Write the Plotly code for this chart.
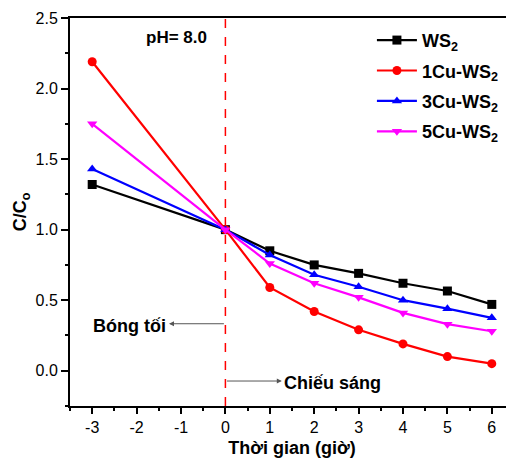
import plotly.graph_objects as go

x_vals = [-3, 0, 1, 2, 3, 4, 5, 6]
ws2 = [1.32, 1.0, 0.85, 0.75, 0.69, 0.62, 0.565, 0.47]
cu1 = [2.19, 1.0, 0.59, 0.42, 0.29, 0.19, 0.10, 0.05]
cu3 = [1.43, 1.0, 0.82, 0.68, 0.595, 0.50, 0.44, 0.375]
cu5 = [1.75, 1.0, 0.76, 0.62, 0.52, 0.41, 0.33, 0.28]

names = ["WS<sub>2</sub>", "1Cu-WS<sub>2</sub>", "3Cu-WS<sub>2</sub>", "5Cu-WS<sub>2</sub>"]
colors = ["#000000", "#ff0000", "#0000ff", "#ff00ff"]
symbols = ["square", "circle", "triangle-up", "triangle-down"]
series = [ws2, cu1, cu3, cu5]

x_ticks = [-3, -2, -1, 0, 1, 2, 3, 4, 5, 6]
y_ticks = [0.0, 0.5, 1.0, 1.5, 2.0, 2.5]

FONT = "Arial, Liberation Sans, sans-serif"

fig = go.Figure()
for i, (n, c, s, ys) in enumerate(zip(names, colors, symbols, series)):
    fig.add_trace(go.Scatter(x=x_vals, y=ys, name=n, mode="lines+markers",
                             legendgroup=f"g{i}",
                             line=dict(color=c, width=2.2),
                             marker=dict(symbol=s, size=9, color=c)))

fig.add_shape(type="line", x0=0, x1=0, y0=-0.25, y1=2.5, xref="x", yref="y",
              line=dict(color="#ff0000", width=1.5, dash="dash"))

# arrows
fig.add_annotation(x=-1.27, y=0.333, ax=0, ay=0.333, xref="x", yref="y", axref="x", ayref="y",
                   showarrow=True, arrowhead=2, arrowsize=1, arrowwidth=1, arrowcolor="#555555", text="")
fig.add_annotation(x=1.27, y=-0.073, ax=0, ay=-0.073, xref="x", yref="y", axref="x", ayref="y",
                   showarrow=True, arrowhead=2, arrowsize=1, arrowwidth=1, arrowcolor="#555555", text="")
fig.add_annotation(x=-1.3, y=0.32, xref="x", yref="y", text="<b>Bóng tối</b>", showarrow=False,
                   xanchor="right", yanchor="middle", font=dict(family=FONT, size=18, color="black"))
fig.add_annotation(x=1.27, y=-0.085, xref="x", yref="y", text="<b>Chiếu sáng</b>", showarrow=False,
                   xanchor="left", yanchor="middle", font=dict(family=FONT, size=18, color="black"))
fig.add_annotation(x=-1.1, y=2.36, xref="x", yref="y", text="<b>pH= 8.0</b>", showarrow=False,
                   xanchor="center", yanchor="middle", font=dict(family=FONT, size=17, color="black"))

fig.update_layout(
    width=506, height=453,
    margin=dict(l=62, r=0, t=10, b=55, autoexpand=False),
    paper_bgcolor="white", plot_bgcolor="white",
    font=dict(family=FONT, size=16, color="black"),
    legend=dict(x=0.68, y=0.99, xanchor="left", yanchor="top", bgcolor="rgba(0,0,0,0)",
                font=dict(family=FONT, size=18, color="black", weight="bold"),
                itemwidth=40, tracegroupgap=4),
    xaxis=dict(range=[-3.5, 6.5], tickvals=x_ticks, ticktext=[str(v) for v in x_ticks],
               showgrid=False, zeroline=False, showline=True, linecolor="black", linewidth=2,
               mirror=True, ticks="outside", ticklen=6, tickwidth=1.5, tickcolor="black",
               minor=dict(tickvals=[v + 0.5 for v in [-4] + x_ticks], ticks="outside", ticklen=3,
                          tickwidth=1.5, tickcolor="black", showgrid=False),
               title=dict(text="<b>Thời gian (giờ)</b>", font=dict(size=18), standoff=6)),
    yaxis=dict(range=[-0.25, 2.5], tickvals=y_ticks, ticktext=["0.0", "0.5", "1.0", "1.5", "2.0", "2.5"],
               showgrid=False, zeroline=False, showline=True, linecolor="black", linewidth=2,
               ticks="outside", ticklen=7, tickwidth=1.5, tickcolor="black",
               minor=dict(tickvals=[-0.25, 0.25, 0.75, 1.25, 1.75, 2.25], ticks="outside", ticklen=3,
                          tickwidth=1.5, tickcolor="black", showgrid=False),
               title=dict(text="<b>C/C<sub>o</sub></b>", font=dict(size=18), standoff=4)),
)

fig.write_html("out.html")
